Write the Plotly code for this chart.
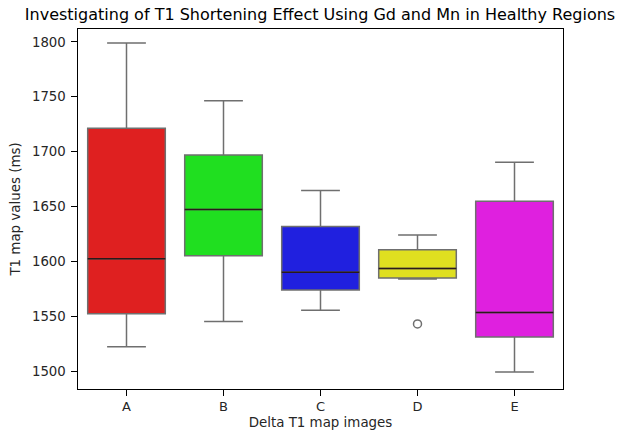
import plotly.graph_objects as go

categories = ["A", "B", "C", "D", "E"]
lower_whisker = [1522.5, 1545.5, 1555.6, 1584.2, 1499.5]
q1_values = [1552.5, 1605.4, 1574.1, 1585.0, 1531.3]
median_values = [1602.6, 1647.3, 1590.2, 1593.8, 1553.7]
q3_values = [1721.3, 1697.0, 1632.0, 1610.8, 1654.8]
upper_whisker = [1799.0, 1746.5, 1664.6, 1624.2, 1690.3]
outlier_category = [3]
outlier_values = [1543.2]
colors = ["#df2020", "#20df20", "#2020df", "#dfdf20", "#df20df"]

FONT = "DejaVu Sans"
W, H = 622, 432
fig = go.Figure()
for i, cat in enumerate(categories):
    fig.add_trace(go.Box(
        x=[i], q1=[q1_values[i]], median=[median_values[i]], q3=[q3_values[i]],
        lowerfence=[lower_whisker[i]], upperfence=[upper_whisker[i]],
        fillcolor=colors[i], line=dict(color="#6f6f6f", width=1.5),
        width=0.8, whiskerwidth=0.5, boxpoints=False, showlegend=False,
        hoverinfo="skip", opacity=1,
    ))
    # dark median line overlay
    fig.add_trace(go.Box(
        x=[i], q1=[median_values[i]], median=[median_values[i]], q3=[median_values[i]],
        lowerfence=[median_values[i]], upperfence=[median_values[i]],
        fillcolor="rgba(0,0,0,0)", line=dict(color="#2a1a1a", width=1.5),
        width=0.8, whiskerwidth=0.0, boxpoints=False, showlegend=False,
        hoverinfo="skip",
    ))

fig.add_trace(go.Scatter(
    x=outlier_category, y=outlier_values, mode="markers",
    marker=dict(symbol="circle-open", size=8, color="#6f6f6f", line=dict(width=1.5)),
    showlegend=False, hoverinfo="skip",
))

fig.update_layout(
    width=W, height=H,
    margin=dict(l=78.3, r=58.7, t=28.5, b=42.7, autoexpand=False),
    paper_bgcolor="white", plot_bgcolor="white",
    font=dict(family=FONT, size=13, color="#262626"),
    title=dict(text="Investigating of T1 Shortening Effect Using Gd and Mn in Healthy Regions",
               x=320 / W, xanchor="center", xref="container",
               y=1 - 14 / H, yanchor="middle",
               font=dict(family=FONT, size=16, color="black")),
    boxmode="overlay",
)
fig.update_xaxes(
    range=[-0.5, 4.5], tickvals=list(range(len(categories))), ticktext=categories,
    showline=True, linecolor="black", linewidth=1.1, mirror=True,
    ticks="outside", ticklen=5.5, tickcolor="black", tickwidth=1.1,
    showgrid=False, zeroline=False, automargin=False,
    title=dict(text="Delta T1 map images", font=dict(family=FONT, size=13.4), standoff=4),
    tickfont=dict(family=FONT, size=13, color="#262626"),
)
fig.update_yaxes(
    range=[1484, 1811.7], tickvals=[1500, 1550, 1600, 1650, 1700, 1750, 1800],
    showline=True, linecolor="black", linewidth=1.1, mirror=True,
    ticks="outside", ticklen=5.5, tickcolor="black", tickwidth=1.1,
    showgrid=False, zeroline=False, automargin=False, ticklabelstandoff=3,
    title=dict(text="T1 map values (ms)", font=dict(family=FONT, size=13.4), standoff=8),
    tickfont=dict(family=FONT, size=13.3, color="#262626"),
)

fig.write_html("out.html", config={"displayModeBar": False},
               post_script="document.body.style.margin='0';")
